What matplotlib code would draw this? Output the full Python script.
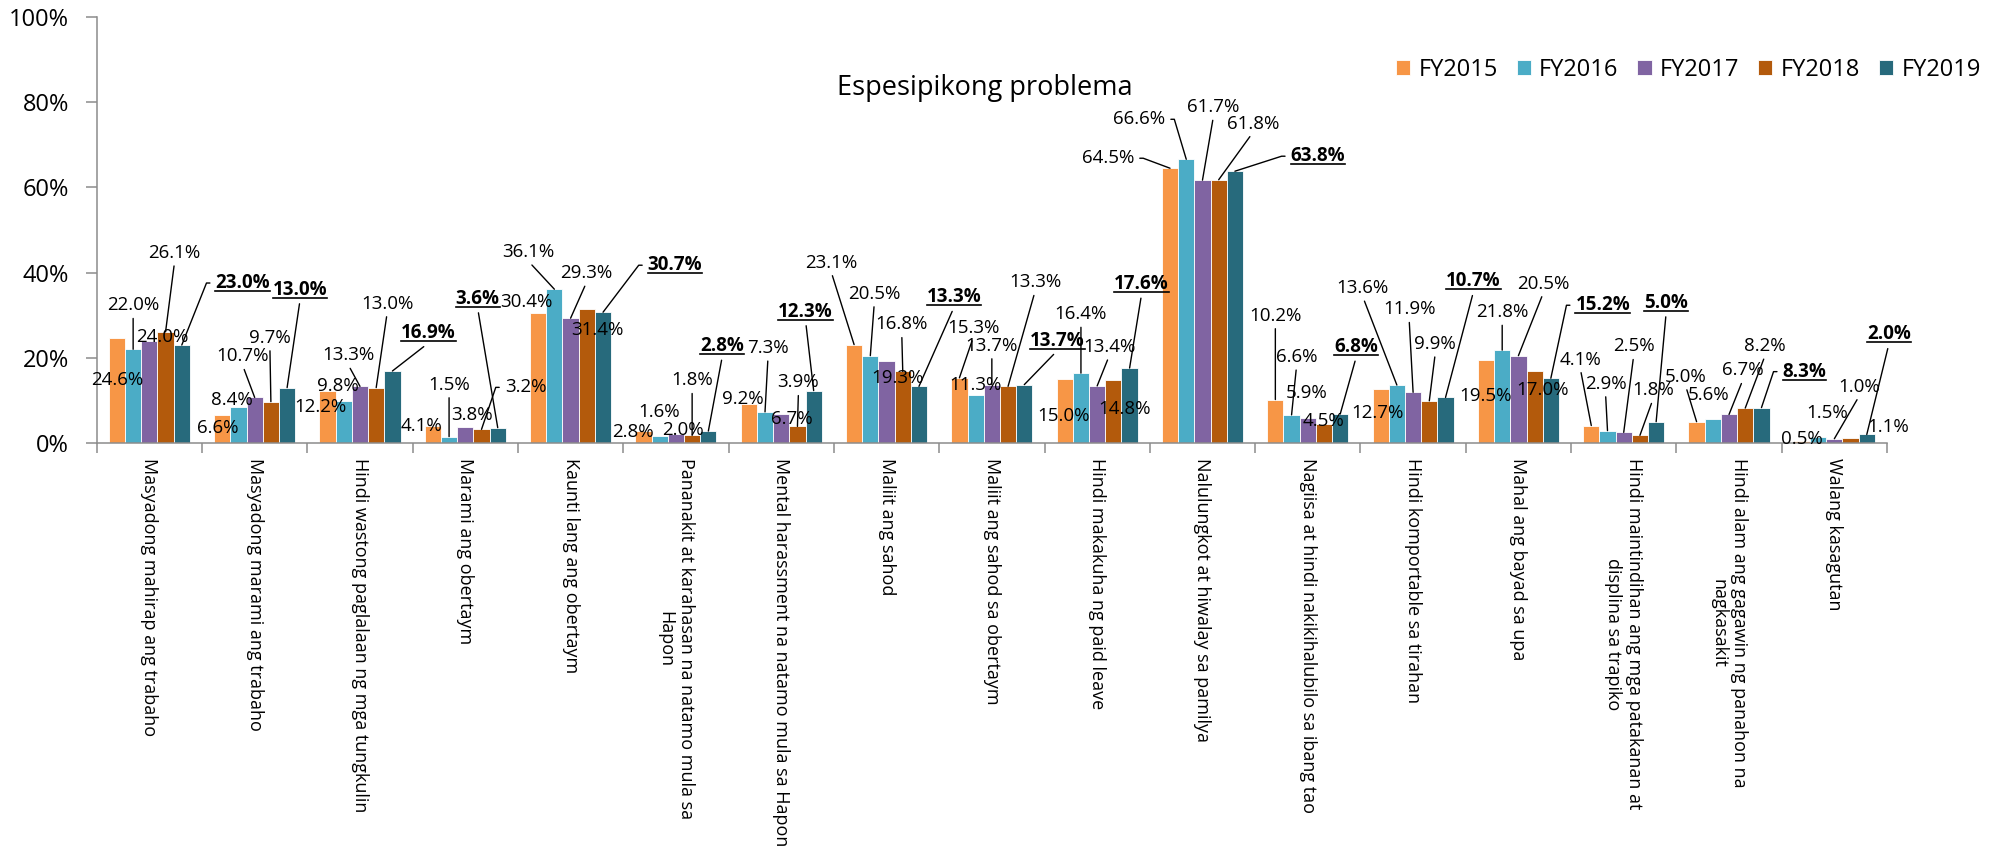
import numpy as np
import matplotlib
matplotlib.use('Agg')
import matplotlib.pyplot as plt
from matplotlib.lines import Line2D
from matplotlib.text import Text

plt.rcParams['font.family'] = ['Open Sans', 'DejaVu Sans']

# Datos
categories = [
    'Masyadong mahirap ang trabaho',
    'Masyadong marami ang trabaho',
    'Hindi wastong paglalaan ng mga tungkulin',
    'Marami ang obertaym',
    'Kaunti lang ang obertaym',
    'Pananakit at karahasan na natamo mula sa\nHapon',
    'Mental harassment na natamo mula sa Hapon',
    'Maliit ang sahod',
    'Maliit ang sahod sa obertaym',
    'Hindi makakuha ng paid leave',
    'Nalulungkot at hiwalay sa pamilya',
    'Nagiisa at hindi nakikihalubilo sa ibang tao',
    'Hindi komportable sa tirahan',
    'Mahal ang bayad sa upa',
    'Hindi maintindihan ang mga patakanan at\ndisplina sa trapiko',
    'Hindi alam ang gagawin ng panahon na\nnagkasakit',
    'Walang kasagutan',
]
years = ['FY2015', 'FY2016', 'FY2017', 'FY2018', 'FY2019']
fy2015 = [24.6, 6.6, 12.2, 4.1, 30.4, 2.8, 9.2, 23.1, 15.3, 15.0, 64.5, 10.2, 12.7, 19.5, 4.1, 5.0, 0.5]
fy2016 = [22.0, 8.4, 9.8, 1.5, 36.1, 1.6, 7.3, 20.5, 11.3, 16.4, 66.6, 6.6, 13.6, 21.8, 2.9, 5.6, 1.5]
fy2017 = [24.0, 10.7, 13.3, 3.8, 29.3, 2.0, 6.7, 19.3, 13.7, 13.4, 61.7, 5.9, 11.9, 20.5, 2.5, 6.7, 1.0]
fy2018 = [26.1, 9.7, 13.0, 3.2, 31.4, 1.8, 3.9, 16.8, 13.3, 14.8, 61.8, 4.5, 9.9, 17.0, 1.8, 8.2, 1.1]
fy2019 = [23.0, 13.0, 16.9, 3.6, 30.7, 2.8, 12.3, 13.3, 13.7, 17.6, 63.8, 6.8, 10.7, 15.2, 5.0, 8.3, 2.0]
series = [fy2015, fy2016, fy2017, fy2018, fy2019]
colors = ['#F79646', '#4BACC6', '#8064A2', '#B35A0C', '#276A7C']

# posicion de las etiquetas (dx, dy en pixeles, tipo de linea guia)
# n: sin linea, s: recta, r: codo hacia la izquierda, l: codo hacia la derecha
label_pos = [
    [(0, 42, 'n'), (0, -44, 's'), (13, -4, 'n'), (9, -79, 's'), (61, -62, 'r')],
    [(-4, 13, 'n'), (-7, -7, 'n'), (-12, -41, 's'), (-1, -64, 's'), (13, -98, 's')],
    [(-7, 16, 'n'), (-6, -15, 'n'), (-12, -31, 's'), (11, -84, 's'), (36, -38, 's')],
    [(-11, 0, 'n'), (0, -52, 's'), (7, -12, 'n'), (44, -42, 'r'), (-20, -129, 's')],
    [(-12, -11, 'n'), (-26, -37, 's'), (16, -45, 's'), (11, 21, 'n'), (72, -47, 'r')],
    [(-11, 1, 'n'), (-1, -24, 'n'), (7, -4, 'n'), (0, -55, 's'), (14, -85, 's')],
    [(-6, -5, 'n'), (3, -64, 's'), (11, 5, 'n'), (1, -44, 's'), (-8, -79, 's')],
    [(-23, -82, 's'), (4, -62, 's'), (11, 17, 'n'), (-1, -47, 's'), (35, -89, 's')],
    [(14, -50, 's'), (0, -10, 'n'), (0, -39, 's'), (27, -104, 's'), (33, -44, 's')],
    [(-1, 37, 'n'), (0, -59, 's'), (12, -39, 's'), (11, 29, 'n'), (12, -84, 's')],
    [(-62, -10, 'l'), (-47, -40, 'l'), (11, -73, 's'), (34, -56, 's'), (83, -15, 'r')],
    [(0, -84, 's'), (5, -58, 's'), (-1, -25, 'n'), (-1, -3, 'n'), (16, -67, 's')],
    [(-3, 24, 'n'), (-34, -97, 's'), (-4, -83, 's'), (6, -57, 's'), (28, -116, 's')],
    [(0, 36, 'n'), (0, -38, 's'), (25, -72, 's'), (8, 19, 'n'), (52, -73, 'r')],
    [(-11, -66, 's'), (-2, -47, 's'), (10, -86, 's'), (13, -45, 's'), (10, -119, 's')],
    [(-11, -45, 's'), (-4, -24, 'n'), (14, -44, 's'), (20, -62, 's'), (43, -36, 'r')],
    [(0, -2, 'n'), (9, -24, 'n'), (25, -52, 's'), (38, -11, 'n'), (22, -100, 's')],
]

W, H = 2006, 856
fig = plt.figure(figsize=(W / 100, H / 100), dpi=100)
ax = fig.add_axes([96.7 / W, 1 - 443 / H, (1887 - 96.7) / W, 426 / H])

x = np.arange(len(categories))
bw = 0.154
for j in range(5):
    ax.bar(x + (j - 2) * bw, series[j], bw, color=colors[j], edgecolor='white',
           linewidth=0.6, label=years[j])

ax.set_xlim(-0.5, len(categories) - 0.5)
ax.set_ylim(0, 100)
ax.set_yticks(np.arange(0, 101, 20))
ax.set_yticklabels([f'{v}%' for v in range(0, 101, 20)], fontsize=17)
ax.set_xticks(x)
ax.set_xticklabels(categories, rotation=-90, fontsize=13, va='top', ha='center',
                   multialignment='center')
ax.set_xticks(np.arange(-0.5, len(categories), 1), minor=True)
ax.tick_params(axis='x', which='major', length=0, pad=11)
ax.tick_params(axis='x', which='minor', length=7, color='#8c8c8c', width=1.1)
ax.tick_params(axis='y', length=8, color='#8c8c8c', width=1.1, pad=12)
for s in ['top', 'right']:
    ax.spines[s].set_visible(False)
for s in ['left', 'bottom']:
    ax.spines[s].set_color('#8c8c8c')
    ax.spines[s].set_linewidth(1.1)

bold_texts = []
for i in range(len(categories)):
    for j in range(5):
        v = series[j][i]
        dx, dy, st = label_pos[i][j]
        props = None
        if st == 's':
            props = dict(arrowstyle='-', color='black', lw=1.0, relpos=(0.5, 0),
                         shrinkA=1, shrinkB=0)
        elif st == 'r':
            props = dict(arrowstyle='-', color='black', lw=1.0, relpos=(0, 0.5),
                         shrinkA=2, shrinkB=0,
                         connectionstyle='arc,angleA=180,armA=9,angleB=90,armB=0,rad=0')
        elif st == 'l':
            props = dict(arrowstyle='-', color='black', lw=1.0, relpos=(1, 0.5),
                         shrinkA=2, shrinkB=0,
                         connectionstyle='arc,angleA=0,armA=9,angleB=90,armB=0,rad=0')
        t = ax.annotate(f'{v:.1f}%', xy=(x[i] + (j - 2) * bw, v), xytext=(dx, -dy),
                        textcoords='offset pixels', ha='center', va='center',
                        fontsize=13.5, fontweight='bold' if j == 4 else 'normal',
                        arrowprops=props, annotation_clip=False)
        if j == 4:
            bold_texts.append(t)

fig.text(985 / W, 1 - 88 / H, 'Espesipikong problema', ha='center', va='center',
         fontsize=19.5)
fig.legend(loc='center left', bbox_to_anchor=(1396 / W, 1 - 70 / H), ncol=5,
           frameon=False, fontsize=17, handlelength=0.6, handleheight=0.6,
           handletextpad=0.35, columnspacing=0.8, borderpad=0, borderaxespad=0)

# subrayado de las etiquetas FY2019 (solo el texto, sin la linea guia)
fig.canvas.draw()
renderer = fig.canvas.get_renderer()
for t in bold_texts:
    bb = Text.get_window_extent(t, renderer)
    yy = bb.y0 + 2
    fig.add_artist(Line2D([bb.x0 / W, bb.x1 / W], [yy / H, yy / H],
                          transform=fig.transFigure, color='black', lw=1.2))

fig.savefig('out.png', dpi=100)
